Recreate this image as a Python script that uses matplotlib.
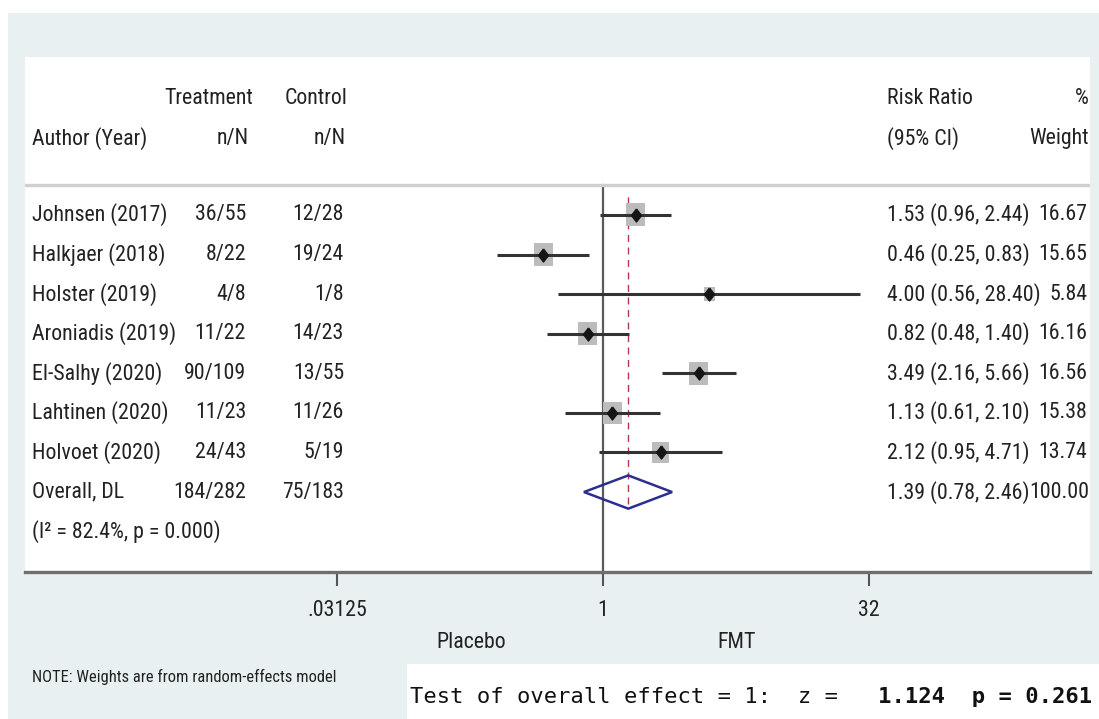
import numpy as np
import matplotlib
matplotlib.use("Agg")
import matplotlib.pyplot as plt
import matplotlib.font_manager as fm
import matplotlib.transforms as mtransforms
from matplotlib.patches import Rectangle, Polygon

# Studies
authors = ['Johnsen (2017)', 'Halkjaer (2018)', 'Holster (2019)', 'Aroniadis (2019)',
           'El-Salhy (2020)', 'Lahtinen (2020)', 'Holvoet (2020)']
treat_nN = ['36/55', '8/22', '4/8', '11/22', '90/109', '11/23', '24/43']
control_nN = ['12/28', '19/24', '1/8', '14/23', '13/55', '11/26', '5/19']
rr = [1.53, 0.46, 4.00, 0.82, 3.49, 1.13, 2.12]
ci_low = [0.96, 0.25, 0.56, 0.48, 2.16, 0.61, 0.95]
ci_high = [2.44, 0.83, 28.40, 1.40, 5.66, 2.10, 4.71]
weights = [16.67, 15.65, 5.84, 16.16, 16.56, 15.38, 13.74]

# Pooled estimate (DerSimonian-Laird)
overall_label = 'Overall, DL'
overall_treat = '184/282'
overall_control = '75/183'
overall_rr, overall_low, overall_high = 1.39, 0.78, 2.46
overall_weight = 100.00
i2, i2_p = 82.4, 0.000
z_stat, z_p = 1.124, 0.261

xticks = [1 / 32, 1, 32]
xticklabels = ['.03125', '1', '32']

W, H = 1099, 719
fig = plt.figure(figsize=(W / 100, H / 100), dpi=100)
fig.patch.set_facecolor('white')

# narrow sans if there is one, otherwise plain Liberation Sans sized to the same widths
names = {f.name for f in fm.fontManager.ttflist}
family = next((n for n in ['Liberation Sans Narrow', 'Arial Narrow', 'Roboto Condensed',
                           'Open Sans Condensed', 'Noto Sans Condensed']
               if n in names), 'Liberation Sans')
plt.rcParams['font.family'] = [family, 'DejaVu Sans']

renderer = fig.canvas.get_renderer()


def fit_size(sample, target_px, cap):
    t = fig.text(0, 0, sample, fontsize=10)
    w = t.get_window_extent(renderer=renderer).width
    t.remove()
    return min(10 * target_px / w, cap)


fs = fit_size('Johnsen (2017)', 135, 17)
fs_note = fit_size('NOTE: Weights are from random-effects model', 303, 13)

bg = '#e8f0f1'
ink = '#222222'


def fx(px):
    return px / W


def fy(py):
    return 1 - py / H


# outer light panel and white box for the test line
fig.patches.append(Rectangle((fx(8), 0), 1 - fx(8), fy(13), transform=fig.transFigure,
                             facecolor=bg, edgecolor='none', zorder=-2))
fig.patches.append(Rectangle((fx(407), 0), 1 - fx(407), fy(664), transform=fig.transFigure,
                             facecolor='white', edgecolor='none', zorder=-1))

ax = fig.add_axes([fx(25), fy(572), fx(1090) - fx(25), (572 - 57) / H])
ax.set_zorder(2)
ax.set_facecolor('white')
ax.set_xscale('log', base=2)
ax.set_xlim(2 ** ((25 - 603) / 53.2), 2 ** ((1090 - 603) / 53.2))
ax.set_ylim(9.02, -3.99)

for s in ['top', 'left', 'right']:
    ax.spines[s].set_visible(False)
ax.spines['bottom'].set_color('#6f6f6f')
ax.spines['bottom'].set_linewidth(2.4)
ax.set_yticks([])
ax.set_xticks(xticks)
ax.set_xticklabels(xticklabels)
ax.xaxis.set_minor_locator(matplotlib.ticker.NullLocator())
ax.tick_params(axis='x', direction='out', length=10, width=1.5, color='#555555',
               pad=10, labelsize=fs, labelcolor=ink)

n = len(authors)
rows = np.arange(n)
row_overall = n
row_het = n + 1
row_head1, row_head2, row_sep = -2.95, -1.94, -0.76

# reference line at 1 and separator
ax.plot([1, 1], [row_sep, 9.02], color='#5a5a5a', lw=1.6, zorder=1, clip_on=False)
ax.axhline(row_sep, color='#cfcfcf', lw=2.4, zorder=1)
ax.plot([overall_rr, overall_rr], [-0.46, row_overall + 0.42], color='#b03a4a',
        lw=1.0, ls=(0, (5, 4)), zorder=2)

# weight boxes, CI lines and point estimates
box_marker = [(-0.5, -0.6), (0.5, -0.6), (0.5, 0.6), (-0.5, 0.6), (-0.5, -0.6)]
diamond_marker = [(0, 1), (0.77, 0), (0, -1), (-0.77, 0), (0, 1)]
box_pt = [(23 * np.sqrt(w / 16.67) * 0.72) ** 2 for w in weights]
ax.scatter(rr, rows, s=box_pt, marker=box_marker, color='#bcbcbc', linewidths=0, zorder=3)
ax.hlines(rows, ci_low, ci_high, color='#333333', lw=2.2, zorder=4)
ax.plot(rr, rows, ls='none', marker=diamond_marker, ms=9.4, color='#151515', zorder=5)

# pooled diamond
ax.add_patch(Polygon([(overall_low, row_overall), (overall_rr, row_overall - 0.42),
                      (overall_high, row_overall), (overall_rr, row_overall + 0.42)],
                     closed=True, fill=False, edgecolor='#2d2f8e', lw=1.8, zorder=5))

# text columns
tr = mtransforms.blended_transform_factory(fig.transFigure, ax.transData)


def col(x, y, s, ha='left'):
    ax.text(fx(x), y, s, transform=tr, ha=ha, va='center', fontsize=fs, color=ink)


col(253, row_head1, 'Treatment', 'right')
col(347, row_head1, 'Control', 'right')
col(887, row_head1, 'Risk Ratio')
col(1089, row_head1, '%', 'right')
col(32, row_head2, 'Author (Year)')
col(249, row_head2, 'n/N', 'right')
col(346, row_head2, 'n/N', 'right')
col(887, row_head2, '(95% CI)')
col(1089, row_head2, 'Weight', 'right')

for i in range(n):
    col(32, i, authors[i])
    col(246, i, treat_nN[i], 'right')
    col(344, i, control_nN[i], 'right')
    col(887, i, f'{rr[i]:.2f} ({ci_low[i]:.2f}, {ci_high[i]:.2f})')
    col(1087, i, f'{weights[i]:.2f}', 'right')

col(32, row_overall, overall_label)
col(246, row_overall, overall_treat, 'right')
col(344, row_overall, overall_control, 'right')
col(887, row_overall, f'{overall_rr:.2f} ({overall_low:.2f}, {overall_high:.2f})')
col(1089, row_overall, f'{overall_weight:.2f}', 'right')
col(32, row_het, f'(I\u00b2 = {i2:.1f}%, p = {i2_p:.3f})')

# below the axis
fig.text(fx(471), fy(643), 'Placebo', ha='center', va='center', fontsize=fs, color=ink)
fig.text(fx(737), fy(643), 'FMT', ha='center', va='center', fontsize=fs, color=ink)
fig.text(fx(32), fy(677), 'NOTE: Weights are from random-effects model', ha='left',
         va='center', fontsize=fs_note, color=ink)

# test line: plain and bold parts laid over each other in a monospace font
plain = 'Test of overall effect = 1:  z = '
bold = f'{z_stat:7.3f}  p = {z_p:.3f}'
fig.text(fx(410), fy(697), plain + ' ' * len(bold), ha='left', va='center',
         fontsize=15.9, family='DejaVu Sans Mono', color='#111111')
fig.text(fx(410), fy(697), ' ' * len(plain) + bold, ha='left', va='center',
         fontsize=15.9, family='DejaVu Sans Mono', fontweight='bold', color='#111111')

fig.savefig('out.png', dpi=100, facecolor=fig.get_facecolor())
